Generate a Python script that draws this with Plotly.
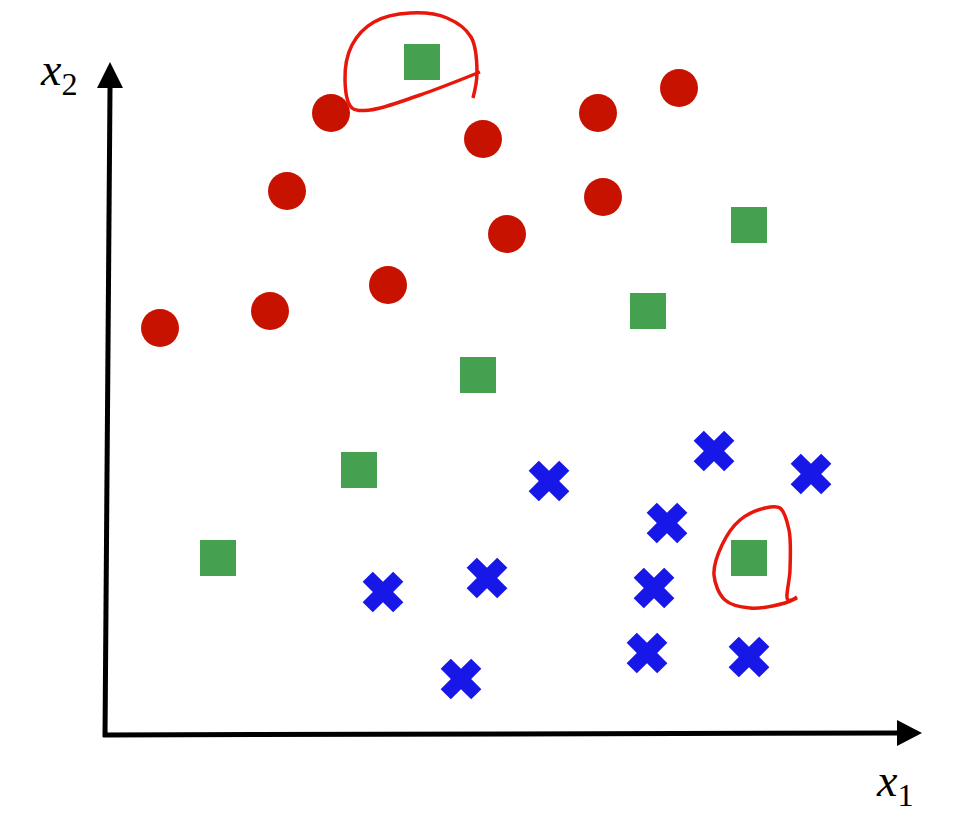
import plotly.graph_objects as go

# Data coordinates: origin at axis corner, 1 unit = 10 px
red_x = [5.5, 16.5, 28.3, 18.2, 22.6, 37.8, 40.2, 49.3, 49.8, 57.4]
red_y = [40.7, 42.4, 45.0, 54.4, 62.2, 59.6, 50.1, 62.2, 53.8, 64.7]

green_x = [31.7, 64.4, 54.3, 37.3, 25.4, 11.3, 64.4]
green_y = [67.3, 51.0, 42.4, 36.0, 26.5, 17.7, 17.7]

blue_x = [27.8, 38.2, 35.6, 44.4, 56.2, 60.9, 70.6, 54.9, 54.2, 64.4]
blue_y = [14.3, 15.7, 5.6, 25.4, 21.2, 28.4, 26.1, 14.7, 8.2, 7.8]

# hand-drawn highlight loops
loop1_x = [36.8, 37.2, 36.6, 34.2, 30.5, 26.9, 24.7, 24.0, 24.7, 26.5, 31.5, 37.5]
loop1_y = [63.7, 66.2, 69.8, 71.7, 72.2, 71.3, 69.0, 65.5, 62.7, 62.5, 64.0, 66.3]
loop2_x = [69.2, 68.3, 68.5, 68.4, 67.5, 66.0, 63.5, 61.7, 60.9, 62.0, 64.5, 68.0, 69.2]
loop2_y = [13.8, 13.5, 16.5, 20.5, 22.7, 22.7, 21.5, 19.0, 16.0, 13.5, 12.7, 13.2, 13.7]

fig = go.Figure()
fig.add_trace(go.Scatter(x=red_x, y=red_y, mode="markers", cliponaxis=False,
                         marker=dict(symbol="circle", size=38, color="#C81200", line=dict(width=0))))
fig.add_trace(go.Scatter(x=green_x, y=green_y, mode="markers", cliponaxis=False,
                         marker=dict(symbol="square", size=36, color="#45A14F", line=dict(width=0))))
fig.add_trace(go.Scatter(x=blue_x, y=blue_y, mode="markers", cliponaxis=False,
                         marker=dict(symbol="x", size=36, color="#1717E8", line=dict(width=0))))
for lx, ly in [(loop1_x, loop1_y), (loop2_x, loop2_y)]:
    fig.add_trace(go.Scatter(x=lx, y=ly, mode="lines", cliponaxis=False,
                             line=dict(color="#E8170C", width=3.5, shape="spline", smoothing=1.0)))

# axes with arrows
shapes = [
    dict(type="line", x0=0, y0=-0.2, x1=0.5, y1=64.7, line=dict(color="black", width=5)),
    dict(type="path", path="M -0.8 64.7 L 1.8 64.7 L 0.5 67.3 Z", fillcolor="black", line=dict(width=0)),
    dict(type="line", x0=-0.2, y0=0, x1=79.2, y1=0.2, line=dict(color="black", width=5)),
    dict(type="path", path="M 79.2 1.5 L 79.2 -1.1 L 81.7 0.2 Z", fillcolor="black", line=dict(width=0)),
]

fig.update_layout(
    width=963, height=806,
    margin=dict(l=0, r=0, t=0, b=0),
    paper_bgcolor="white", plot_bgcolor="white",
    showlegend=False,
    shapes=shapes,
    xaxis=dict(range=[-9.7, 86.6], visible=False, fixedrange=True),
    yaxis=dict(range=[-7.9, 72.7], visible=False, fixedrange=True),
    annotations=[
        dict(x=-4.6, y=66.2, text="<i>x</i><sub>2</sub>", showarrow=False,
             font=dict(family="Liberation Serif", size=46, color="black")),
        dict(x=79.0, y=-4.9, text="<i>x</i><sub>1</sub>", showarrow=False,
             font=dict(family="Liberation Serif", size=46, color="black")),
    ],
)

fig.write_html("out.html")
